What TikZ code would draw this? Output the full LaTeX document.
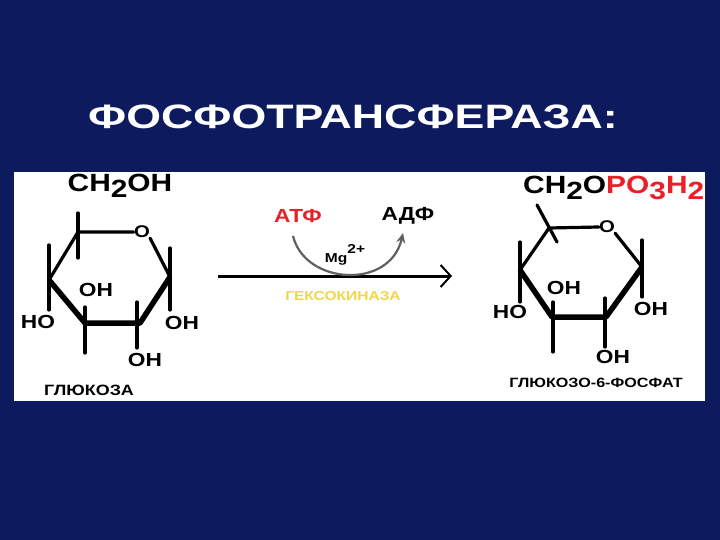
\documentclass[tikz,border=0pt]{standalone}
\usepackage{fontspec}
\setmainfont{Liberation Sans}[FakeStretch=1.2]
\usetikzlibrary{arrows.meta}
\definecolor{bg}{HTML}{0E1A5E}
\definecolor{rd}{HTML}{E8202A}
\definecolor{yl}{HTML}{F2D64A}
\begin{document}
\begin{tikzpicture}[x=1bp,y=-1bp,
 bond/.style={line width=3.2bp,line cap=round,line join=round},
 thick bond/.style={line width=5.5bp,line join=round},
 lab/.style={font=\fontsize{19}{19}\selectfont\bfseries,inner sep=0},
 big/.style={font=\fontsize{25}{25}\selectfont\bfseries,inner sep=0}]
\fill[bg] (0,0) rectangle (720,540);
\fill[white] (14,172) rectangle (705,401);
\node[font=\fontsize{34}{34}\selectfont\bfseries,text=white,inner sep=0] (title) at (353,117) {\scalebox{1.1}[1]{ФОСФОТРАНСФЕРАЗА:}};
% left glucose
\coordinate (a5) at (78,232); \coordinate (a1) at (170,277);
\coordinate (a2) at (140,323); \coordinate (a3) at (85,323); \coordinate (a4) at (49,280);
\node[lab,font=\fontsize{17}{17}\selectfont\bfseries] (ao) at (142,232) {O};
\draw[bond] (ao.west) -- (a5) -- (a4);
\draw[bond] (ao.south east) -- (a1);
\draw[thick bond] (a4) -- (a3) -- (a2) -- (a1);
\draw[bond] (78,213) -- (78,258);
\draw[bond] (49,245) -- (49,310);
\draw[bond] (85,307) -- (85,353);
\draw[bond] (137,302) -- (137,348);
\draw[bond] (170,248) -- (170,310);
\node[big] (ach) at (120,186) {CH\raisebox{-0.45ex}{2}OH};
\node[lab] (aho) at (38,322) {HO};
\node[lab] (aoh3) at (96,290) {OH};
\node[lab] (aoh2) at (145,360) {OH};
\node[lab] (aoh1) at (182,323) {OH};
\node[font=\fontsize{15}{15}\selectfont\bfseries,inner sep=0] (aname) at (89,390) {ГЛЮКОЗА};
% arrow
\coordinate (s) at (218,276); \coordinate (e) at (452,276);
\draw[line width=3bp,-{Straight Barb[length=10bp,width=22bp,line width=2bp]}] (s) -- (e);
\node[font=\fontsize{19}{19}\selectfont\bfseries,text=rd,inner sep=0] (atp) at (298,216) {АТФ};
\node[font=\fontsize{19}{19}\selectfont\bfseries,inner sep=0] (adp) at (408,216) {АДФ};
\node[font=\fontsize{13}{13}\selectfont\bfseries,inner sep=0] (mg) at (345,255) {Mg\raisebox{1.3ex}{2+}};
\node[font=\fontsize{13}{13}\selectfont\bfseries,text=yl,inner sep=0] (hk) at (343,296) {ГЕКСОКИНАЗА};
\draw[line width=2.2bp,gray!75!black,-{Stealth[length=10bp,width=9bp]}] (293,236) .. controls (305,285) and (390,290) .. (403,233);
% right
\coordinate (b5) at (549,228); \coordinate (b1) at (642,267);
\coordinate (b2) at (606,317); \coordinate (b3) at (552,317); \coordinate (b4) at (520,270);
\node[lab,font=\fontsize{17}{17}\selectfont\bfseries] (bo) at (607,227) {O};
\draw[bond] (bo.west) -- (b5) -- (b4);
\draw[bond] (bo.south east) -- (b1);
\draw[thick bond] (b4) -- (b3) -- (b2) -- (b1);
\draw[bond] (537,205) -- (557,242);
\draw[bond] (520,242) -- (520,302);
\draw[bond] (553,302) -- (553,352);
\draw[bond] (605,298) -- (605,347);
\draw[bond] (642,240) -- (642,297);
\node[big,anchor=west] (bch) at (523,188) {CH\raisebox{-0.45ex}{2}O\textcolor{rd}{PO\raisebox{-0.45ex}{3}H\raisebox{-0.45ex}{2}}};
\node[lab] (bho) at (510,312) {HO};
\node[lab] (boh3) at (564,288) {OH};
\node[lab] (boh2) at (613,357) {OH};
\node[lab] (boh1) at (651,309) {OH};
\node[font=\fontsize{13.5}{13.5}\selectfont\bfseries,inner sep=0] (bname) at (596,383) {ГЛЮКОЗО-6-ФОСФАТ};
\end{tikzpicture}
\end{document}
